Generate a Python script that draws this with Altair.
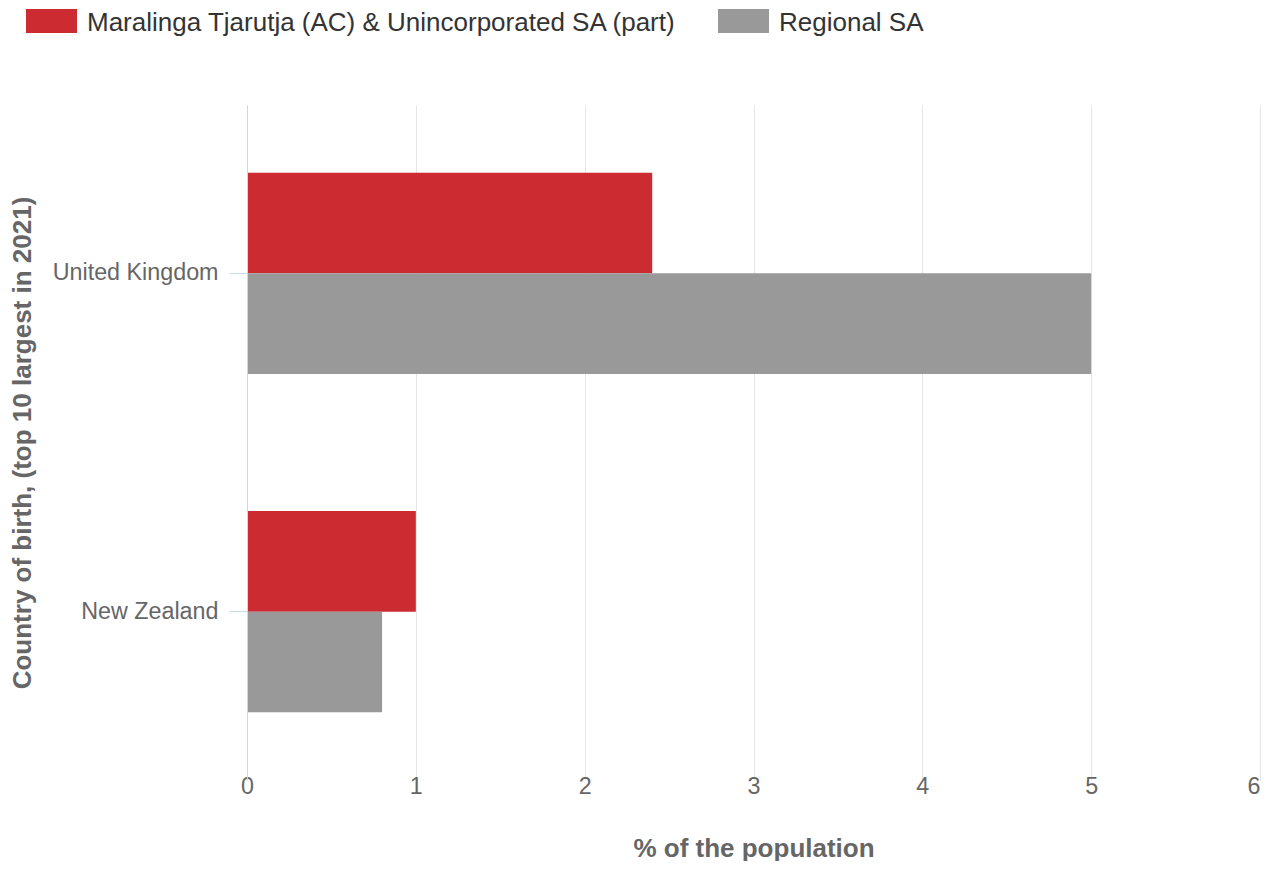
import altair as alt
import pandas as pd

countries = ["United Kingdom", "New Zealand"]
series = ["Maralinga Tjarutja (AC) & Unincorporated SA (part)", "Regional SA"]
area_values = [2.4, 1.0]
regional_values = [5.0, 0.8]
colors = ["#cc2b32", "#999999"]
x_ticks = [0, 1, 2, 3, 4, 5, 6]

rows = []
for c, a, r in zip(countries, area_values, regional_values):
    rows.append({"country": c, "series": series[0], "value": a})
    rows.append({"country": c, "series": series[1], "value": r})
df = pd.DataFrame(rows)

FONT = "Liberation Sans, Arial, Helvetica, sans-serif"
W, H = 1013, 675

chart = alt.Chart(df).mark_bar().encode(
    y=alt.Y(
        "country:N",
        sort=countries,
        scale=alt.Scale(paddingInner=0.405, paddingOuter=0.2),
        axis=alt.Axis(
            title="Country of birth, (top 10 largest in 2021)",
            grid=False,
            domainColor="#ccd6eb",
            domainWidth=1,
            tickColor="#ccd6eb",
            tickSize=18,
            labelPadding=11,
            labelFont=FONT,
            labelFontSize=23.3,
            labelColor="#666666",
            titleFont=FONT,
            titleFontSize=26,
            titleFontWeight="bold",
            titleColor="#666666",
            titleX=-225,
            titleY=H / 2,
            titleAngle=270,
            titleAlign="center",
            titleBaseline="middle",
            zindex=1,
        ),
    ),
    yOffset=alt.YOffset(
        "series:N", sort=series, scale=alt.Scale(paddingInner=0, paddingOuter=0)
    ),
    x=alt.X(
        "value:Q",
        scale=alt.Scale(domain=[0, 6], nice=False),
        axis=alt.Axis(
            values=x_ticks,
            title="% of the population",
            grid=True,
            gridColor={"condition": {"test": "datum.value === 0", "value": "#ccd6eb"}, "value": "#e6e6e6"},
            gridWidth=1,
            domain=False,
            ticks=False,
            labelPadding=-5,
            labelAlign={"condition": {"test": "datum.value === 6", "value": "right"}, "value": "center"},
            labelFont=FONT,
            labelFontSize=23.3,
            labelColor="#666666",
            titleFont=FONT,
            titleFontSize=26,
            titleFontWeight="bold",
            titleColor="#666666",
            titleX=W / 2,
            titleY=76,
            titleAlign="center",
            titleBaseline="alphabetic",
        ),
    ),
    color=alt.Color(
        "series:N",
        sort=series,
        scale=alt.Scale(domain=series, range=colors),
        legend=alt.Legend(
            title=None,
            orient="none",
            legendX=-221,
            legendY=-108,
            direction="horizontal",
            symbolType="M-1,-0.54L1,-0.54L1,0.40L-1,0.40Z",
            symbolSize=2601,
            symbolStrokeWidth=0,
            symbolOpacity=1,
            labelFont=FONT,
            labelFontSize=26,
            labelColor="#333333",
            labelOffset=10,
            labelLimit=1000,
            columnPadding=41,
            padding=0,
        ),
    ),
).properties(
    width=W,
    height=H,
    autosize=alt.AutoSizeParams(type="none"),
    padding={"left": 239, "top": 97, "right": 1, "bottom": 81},
).configure_view(stroke=None)

chart.save("out.html", embed_options={"renderer": "svg", "actions": False})
